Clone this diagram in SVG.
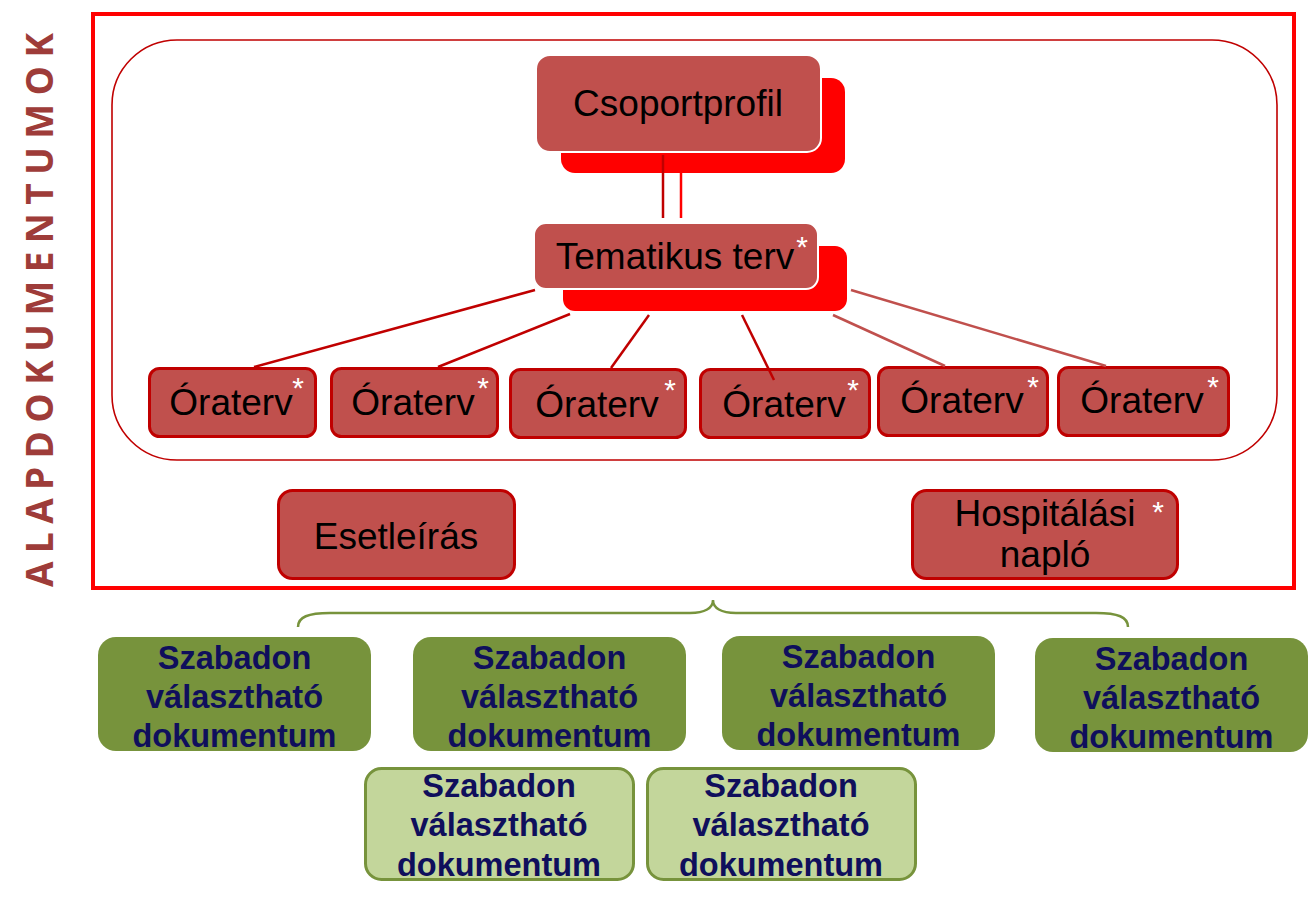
<svg xmlns="http://www.w3.org/2000/svg" width="1310" height="905" viewBox="0 0 1310 905">
<style>
.rn{fill:#C0504D;stroke:#C00000;stroke-width:3}
.mn{fill:#C0504D;stroke:#FFFFFF;stroke-width:2}
.sh{fill:#FF0000}
.t{font-family:"Liberation Sans",Arial,sans-serif;font-size:37px;fill:#000000;text-anchor:middle}
.ast{font-family:"Liberation Sans",Arial,sans-serif;font-size:30px;fill:#FFFFFF;text-anchor:middle}
.gd{fill:#77933C}
.gl{fill:#C3D69B;stroke:#77933C;stroke-width:3}
.gt{font-family:"Liberation Sans",Arial,sans-serif;font-size:32.5px;font-weight:bold;fill:#0F0F5C;text-anchor:middle}
.c1{stroke:#C00000;stroke-width:2.5;fill:none}
.c2{stroke:#C0504D;stroke-width:2.5;fill:none}
</style>
<rect width="1310" height="905" fill="#FFFFFF"/>
<g id="frame">
<rect x="93" y="14" width="1201" height="574" fill="none" stroke="#FF0000" stroke-width="4"/>
<rect x="112" y="40" width="1165" height="420" rx="65" ry="65" fill="none" stroke="#C00000" stroke-width="1.6"/>
</g>
<g id="label">
<text transform="translate(53,587) rotate(-90)" font-family="'Open Sans','Liberation Sans',sans-serif" font-size="37" font-weight="bold" fill="#9E3C39" textLength="554" lengthAdjust="spacing">ALAPDOKUMENTUMOK</text>
</g>
<g id="csoportprofil">
<rect class="sh" x="561" y="78" width="284" height="95" rx="14"/>
<rect class="mn" x="536" y="55" width="285" height="97" rx="14"/>
<text class="t" x="678" y="116">Csoportprofil</text>
</g>
<g id="tematikus">
<rect class="sh" x="563" y="246" width="284" height="65" rx="12"/>
<rect class="mn" x="534" y="223" width="284" height="66" rx="12"/>
<text class="t" x="675" y="269">Tematikus terv</text>
<text class="ast" x="802" y="257">*</text>
</g>
<g id="orat1"><rect class="rn" x="149.5" y="368.5" width="166" height="68" rx="10"/><text class="t" x="231" y="415">Óraterv</text><text class="ast" x="298" y="398">*</text></g>
<g id="orat2"><rect class="rn" x="331.5" y="368.5" width="166" height="68" rx="10"/><text class="t" x="413" y="415">Óraterv</text><text class="ast" x="483" y="398">*</text></g>
<g id="orat3"><rect class="rn" x="510.5" y="369.5" width="175" height="68" rx="10"/><text class="t" x="597" y="417">Óraterv</text><text class="ast" x="670" y="400">*</text></g>
<g id="orat4"><rect class="rn" x="700.5" y="369.5" width="169" height="68" rx="10"/><text class="t" x="784" y="417">Óraterv</text><text class="ast" x="853" y="400">*</text></g>
<g id="orat5"><rect class="rn" x="878.5" y="367.5" width="169" height="68" rx="10"/><text class="t" x="962" y="413">Óraterv</text><text class="ast" x="1033" y="397">*</text></g>
<g id="orat6"><rect class="rn" x="1058.5" y="367.5" width="170" height="68" rx="10"/><text class="t" x="1142" y="413">Óraterv</text><text class="ast" x="1213" y="397">*</text></g>
<g id="esetleiras"><rect class="rn" x="278.5" y="490.5" width="236" height="88" rx="14"/><text class="t" x="396" y="549">Esetleírás</text></g>
<g id="hospitalasi"><rect class="rn" x="912.5" y="490.5" width="265" height="88" rx="14"/><text class="t" x="1045" y="526">Hospitálási</text><text class="t" x="1045" y="567">napló</text><text class="ast" x="1158" y="522">*</text></g>
<g id="connectors">
<line class="c1" x1="663" y1="155" x2="663" y2="218"/>
<line x1="681" y1="155" x2="681" y2="218" stroke="#FF0000" stroke-width="2.5"/>
<line class="c1" x1="535" y1="290" x2="254" y2="367"/>
<line class="c1" x1="570" y1="314" x2="438" y2="367"/>
<line class="c1" x1="649" y1="315" x2="611" y2="368"/>
<line class="c1" x1="742" y1="315" x2="774" y2="380"/>
<line class="c2" x1="833" y1="315" x2="945" y2="366"/>
<line class="c2" x1="851" y1="290" x2="1106" y2="366"/>
<path d="M298,627 C298,617 308,613 330,613 L690,613 C705,613 713,608 713,600 C713,608 721,613 736,613 L1096,613 C1118,613 1128,617 1128,627" fill="none" stroke="#77933C" stroke-width="2.5"/>
</g>
<g id="g1"><rect class="gd" x="98" y="637" width="273" height="114" rx="18"/><text class="gt" x="234.5" y="669">Szabadon</text><text class="gt" x="234.5" y="708">választható</text><text class="gt" x="234.5" y="747">dokumentum</text></g>
<g id="g2"><rect class="gd" x="413" y="637" width="273" height="114" rx="18"/><text class="gt" x="549.5" y="669">Szabadon</text><text class="gt" x="549.5" y="708">választható</text><text class="gt" x="549.5" y="747">dokumentum</text></g>
<g id="g3"><rect class="gd" x="722" y="636" width="273" height="114" rx="18"/><text class="gt" x="858.5" y="668">Szabadon</text><text class="gt" x="858.5" y="707">választható</text><text class="gt" x="858.5" y="746">dokumentum</text></g>
<g id="g4"><rect class="gd" x="1035" y="638" width="273" height="114" rx="18"/><text class="gt" x="1171.5" y="670">Szabadon</text><text class="gt" x="1171.5" y="709">választható</text><text class="gt" x="1171.5" y="748">dokumentum</text></g>
<g id="l1"><rect class="gl" x="365.5" y="768.5" width="268" height="111" rx="16"/><text class="gt" x="499" y="797">Szabadon</text><text class="gt" x="499" y="836">választható</text><text class="gt" x="499" y="876">dokumentum</text></g>
<g id="l2"><rect class="gl" x="647.5" y="768.5" width="268" height="111" rx="16"/><text class="gt" x="781" y="797">Szabadon</text><text class="gt" x="781" y="836">választható</text><text class="gt" x="781" y="876">dokumentum</text></g>
</svg>
